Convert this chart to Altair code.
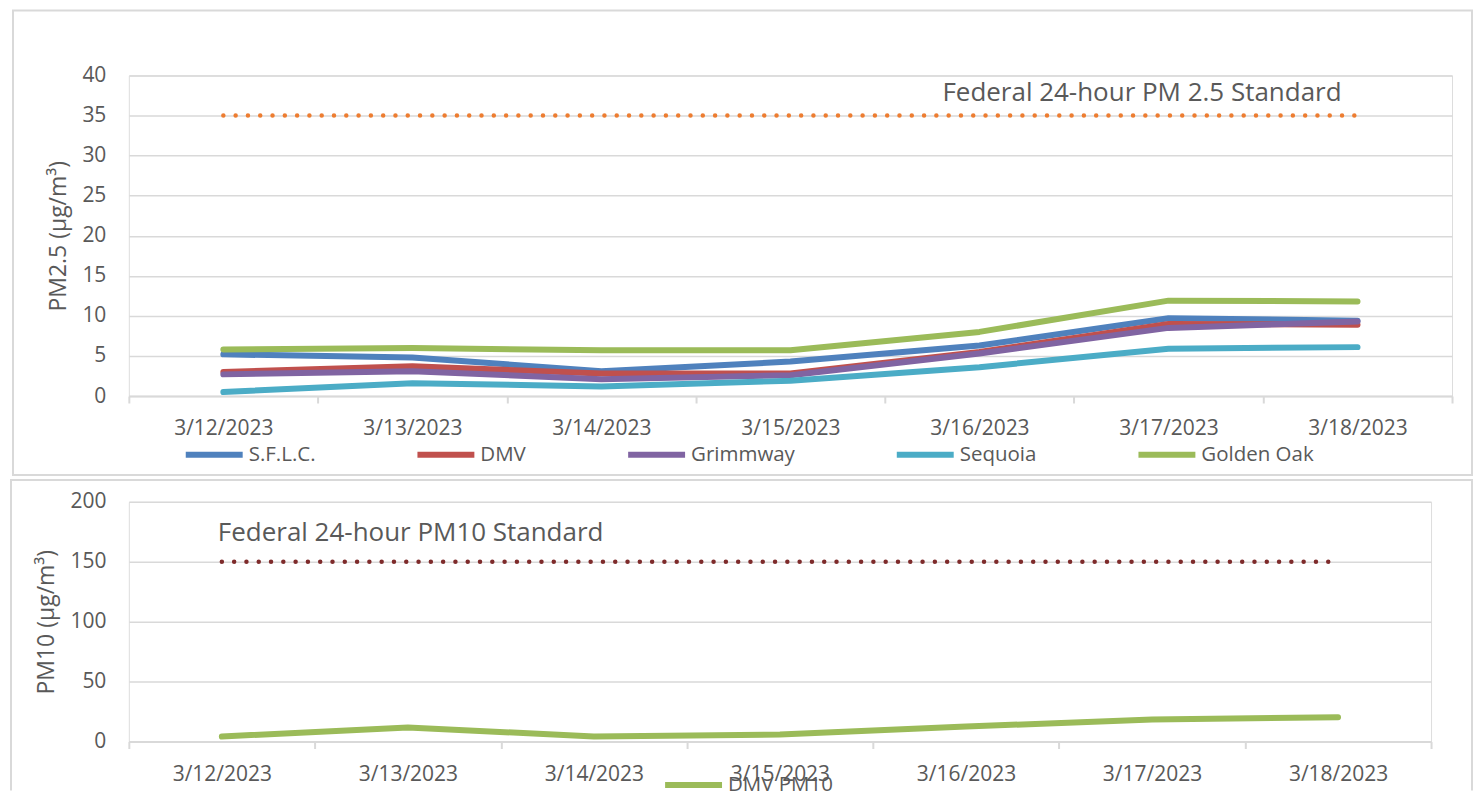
import altair as alt
import pandas as pd

dates = ["3/12/2023", "3/13/2023", "3/14/2023", "3/15/2023", "3/16/2023", "3/17/2023", "3/18/2023"]
series_names = ["S.F.L.C.", "DMV", "Grimmway", "Sequoia", "Golden Oak"]
series_colors = ["#4F81BD", "#C0504D", "#8064A2", "#4BACC6", "#9BBB59"]
sflc = [5.2, 4.8, 3.1, 4.3, 6.3, 9.7, 9.4]
dmv = [3.0, 3.7, 2.8, 2.8, 5.5, 9.0, 8.9]
grimmway = [2.7, 3.1, 2.1, 2.6, 5.3, 8.5, 9.3]
sequoia = [0.5, 1.6, 1.2, 1.9, 3.6, 5.9, 6.1]
golden_oak = [5.8, 6.0, 5.7, 5.7, 8.0, 11.9, 11.8]
dmv_pm10 = [4.2, 11.7, 4.2, 5.8, 12.5, 18.3, 20.3]
pm25_standard = 35
pm10_standard = 150
pm25_label = "Federal 24-hour PM 2.5 Standard"
pm10_label = "Federal 24-hour PM10 Standard"
pm25_ticks = [0, 5, 10, 15, 20, 25, 30, 35, 40]
pm10_ticks = [0, 50, 100, 150, 200]

GRID = "#D9D9D9"
TEXT = "#595959"
FONT = "Open Sans"

rows = []
for name, vals in zip(series_names, [sflc, dmv, grimmway, sequoia, golden_oak]):
    for d, v in zip(dates, vals):
        rows.append({"date": d, "series": name, "value": v})
top_df = pd.DataFrame(rows)
std25_df = pd.DataFrame({"date": dates, "value": [pm25_standard] * len(dates)})
pm10_df = pd.DataFrame({"date": dates, "series": ["DMV PM10"] * len(dates), "value": dmv_pm10})
std10_df = pd.DataFrame({"date": dates, "value": [pm10_standard] * len(dates)})

W1, H1 = 1325, 321
W2, H2 = 1304, 240


def x_enc():
    return alt.X(
        "date:N", sort=dates,
        scale=alt.Scale(type="band", domain=dates, paddingInner=0, paddingOuter=0),
        axis=alt.Axis(title=None, labelAngle=0, tickBand="extent", grid=False,
                      domainColor=GRID, domainWidth=2, tickColor=GRID, tickWidth=2,
                      tickSize=7, labelFontSize=21, labelPadding=15, labelColor=TEXT,
                      labelFont=FONT),
    )


def y_enc(title, ticks, domain):
    return alt.Y(
        "value:Q", scale=alt.Scale(domain=domain, nice=False, zero=True),
        axis=alt.Axis(title=title, values=ticks, domain=False, ticks=False,
                      gridColor=GRID, gridWidth=1.5, labelFontSize=21, labelPadding=23,
                      labelColor=TEXT, labelFont=FONT, titleFontSize=23,
                      titleFontWeight="normal", titleColor=TEXT, titleFont=FONT,
                      titlePadding=11),
    )


one_row = alt.Data(values=[{"k": 1}])

# ---- top panel ----
frame1 = alt.Chart(one_row).mark_rect(filled=False, stroke=GRID, strokeWidth=2, clip=False).encode(
    x=alt.value(-116), x2=alt.value(W1 + 20), y=alt.value(-65), y2=alt.value(H1 + 79))

std25 = alt.Chart(std25_df).mark_line(
    color="#ED7D31", strokeWidth=4.5, strokeDash=[0.01, 12.3], strokeCap="round").encode(
    x=x_enc(), y=y_enc("PM2.5 (µg/m³)", pm25_ticks, [0, 40]))

std25_text = alt.Chart(alt.Data(values=[{"date": dates[-1], "value": pm25_standard, "t": pm25_label}])).mark_text(
    align="right", baseline="middle", dx=-16, dy=-23, fontSize=26, font=FONT, color=TEXT).encode(
    x=alt.X("date:N", sort=dates), y=alt.Y("value:Q"), text="t:N")

lines1 = alt.Chart(top_df).mark_line(strokeWidth=6, strokeCap="round", strokeJoin="round").encode(
    x=x_enc(), y=y_enc("PM2.5 (µg/m³)", pm25_ticks, [0, 40]),
    color=alt.Color("series:N", sort=series_names,
                    scale=alt.Scale(domain=series_names, range=series_colors),
                    legend=alt.Legend(title=None, orient="none", legendX=54, legendY=348,
                                      direction="horizontal", columns=5, columnPadding=90,
                                      symbolType="stroke", symbolSize=3249, symbolStrokeWidth=6,
                                      labelFontSize=20.5, labelFont=FONT, labelColor=TEXT,
                                      labelOffset=3, labelLimit=300)),
    order=alt.Order("series_idx:Q"),
).transform_calculate(series_idx="indexof(%s, datum.series)" % str(series_names))

top = alt.layer(frame1, std25, std25_text, lines1).properties(width=W1, height=H1)

# ---- bottom panel (frame open at the bottom, continues to the edge) ----
frame_style = dict(color=GRID, strokeWidth=2, clip=False)
f_left = alt.Chart(one_row).mark_rule(**frame_style).encode(
    x=alt.value(-118), y=alt.value(-22), y2=alt.value(H2 + 49))
f_top = alt.Chart(one_row).mark_rule(**frame_style).encode(
    x=alt.value(-119), x2=alt.value(W2 + 42), y=alt.value(-22))
f_right = alt.Chart(one_row).mark_rule(**frame_style).encode(
    x=alt.value(W2 + 41), y=alt.value(-22), y2=alt.value(H2 + 49))

std10 = alt.Chart(std10_df).mark_line(
    color="#7E2B2B", strokeWidth=4.5, strokeDash=[0.01, 12.3], strokeCap="round").encode(
    x=x_enc(), y=y_enc("PM10 (µg/m³)", pm10_ticks, [0, 200]))

std10_text = alt.Chart(alt.Data(values=[{"date": dates[0], "value": pm10_standard, "t": pm10_label}])).mark_text(
    align="left", baseline="middle", dx=-4, dy=-29, fontSize=26, font=FONT, color=TEXT).encode(
    x=alt.X("date:N", sort=dates), y=alt.Y("value:Q"), text="t:N")

lines2 = alt.Chart(pm10_df).mark_line(strokeWidth=6, strokeCap="round", strokeJoin="round").encode(
    x=x_enc(), y=y_enc("PM10 (µg/m³)", pm10_ticks, [0, 200]),
    color=alt.Color("series:N",
                    scale=alt.Scale(domain=["DMV PM10"], range=["#9BBB59"]),
                    legend=alt.Legend(title=None, orient="none", legendX=534, legendY=252,
                                      direction="horizontal", symbolType="stroke", symbolSize=3249,
                                      symbolStrokeWidth=6, labelFontSize=20.5, labelFont=FONT,
                                      labelColor=TEXT, labelOffset=3, labelLimit=300)),
)

bottom = alt.layer(f_left, f_top, f_right, std10, std10_text, lines2).properties(width=W2, height=H2)

chart = alt.vconcat(top, bottom, spacing=1).resolve_scale(
    color="independent", x="independent", y="independent").resolve_legend(
    color="independent").properties(
    padding={"left": 0, "top": 0, "right": 0, "bottom": 0}, background="white").configure_view(
    stroke=None).configure(font=FONT)

chart.save("out.html", embed_options={"renderer": "svg", "actions": False})
